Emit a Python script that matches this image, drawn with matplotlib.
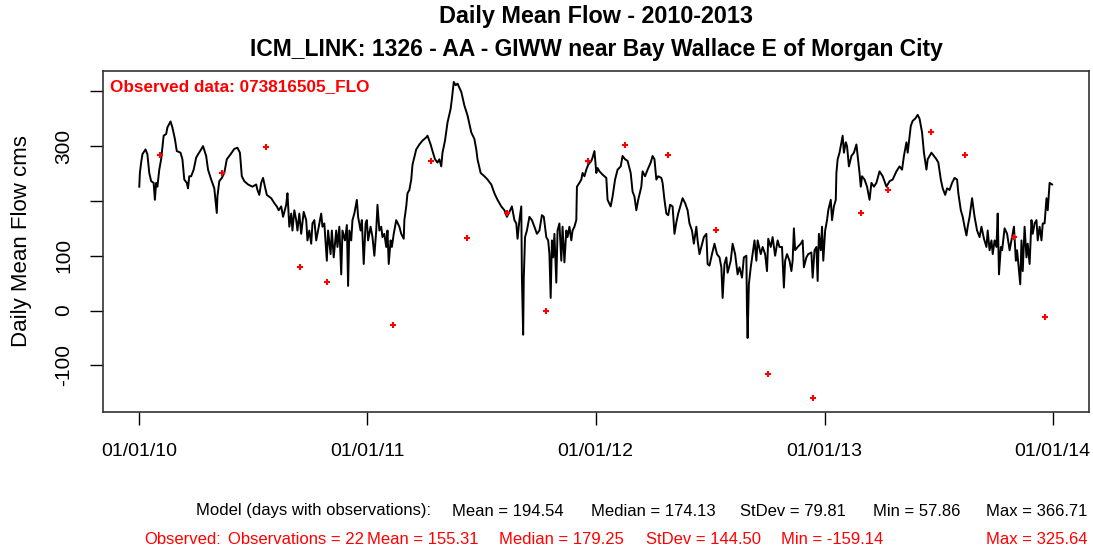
import numpy as np
import matplotlib
matplotlib.use("Agg")
import matplotlib.pyplot as plt
import matplotlib.dates as mdates

plt.rcParams['font.family'] = ['Liberation Sans', 'DejaVu Sans']

# model daily mean flow (cms); days counted from 2010-01-01
model_day = [0, 1, 3, 5, 10, 13, 16, 19, 23, 25, 27, 29, 32, 35, 39, 43, 45, 50, 53, 57,
             60, 66, 69, 72, 76, 78, 80, 83, 87, 91, 94, 99, 102, 107, 110, 115, 120, 124, 125, 128,
             132, 136, 140, 146, 152, 157, 161, 164, 168, 174, 181, 187, 189, 192, 195, 198, 201, 204, 211, 216,
             220, 223, 227, 230, 235, 237, 240, 243, 245, 248, 251, 253, 256, 259, 263, 267, 269, 272, 275, 277,
             280, 283, 286, 291, 293, 296, 300, 302, 306, 308, 311, 315, 317, 320, 323, 325, 329, 332, 334, 336,
             339, 341,
             344, 348, 350, 354, 356, 359, 362, 364, 366, 370, 373, 376, 379, 381, 384, 387, 389, 392, 395, 397,
             399, 402, 404, 407, 411, 416, 419, 423, 424, 427, 429, 432, 435, 437, 443, 448, 453, 459, 461, 466,
             469, 473, 477, 480, 483, 485, 489, 493, 498, 500, 503, 506, 509, 515, 520, 525, 531, 536, 539, 541,
             546, 552, 557, 563, 568, 573, 579, 584, 588, 592, 596, 600, 603, 605, 608, 611, 612, 614, 615, 617,
             620, 624, 628, 632, 636, 640, 644, 647, 651, 654, 656, 658, 660, 662, 664, 667, 669, 672, 675, 677,
             680, 683, 685, 688, 691, 693, 696, 699, 700, 704, 707, 709,
             712, 715, 718, 723, 725, 728, 731, 733, 736, 741, 747, 749, 754, 757, 761, 765, 770, 773, 777, 781,
             786, 789, 792, 795, 798, 803, 805, 809, 813, 818, 821, 824, 827, 830, 835, 837, 840, 843, 846, 849,
             853, 856, 859, 862, 866, 869, 873, 877, 880, 884, 887, 891, 893, 896, 899, 903, 907, 909, 912, 916,
             920, 924, 928, 931, 933, 936, 939, 941, 946, 949, 953, 957, 960, 964, 967, 971, 972, 973, 975, 978,
             981, 984, 987, 989, 994, 997, 1001, 1004, 1006, 1010, 1013, 1017, 1021, 1024, 1028, 1031, 1033, 1036, 1040, 1043,
             1045, 1047, 1049, 1053, 1058, 1061, 1063, 1067, 1070, 1075, 1077,
             1080, 1083, 1085, 1087, 1090, 1092, 1094, 1097, 1100, 1102, 1106, 1108, 1111, 1114, 1115, 1117, 1120, 1123, 1125, 1127,
             1130, 1132, 1135, 1139, 1143, 1147, 1149, 1152, 1154, 1156, 1160, 1164, 1168, 1171, 1175, 1179, 1184, 1189, 1195, 1200,
             1205, 1211, 1216, 1220, 1223, 1227, 1229, 1234, 1237, 1241, 1245, 1248, 1252, 1255, 1259, 1261, 1267, 1271, 1275, 1278,
             1282, 1285, 1289, 1292, 1296, 1300, 1304, 1308, 1310, 1314, 1317, 1320, 1323, 1325, 1328, 1332, 1336, 1340, 1344, 1347,
             1351, 1355, 1357, 1360, 1363, 1365, 1368, 1371, 1373, 1375, 1378, 1380, 1384, 1388, 1392, 1396, 1399, 1402, 1404, 1406,
             1409, 1411, 1413, 1416, 1419, 1421, 1424, 1427, 1429, 1432, 1435, 1437, 1440, 1443, 1445, 1448, 1451, 1453, 1456, 1460]
model_flow = [226, 251, 270, 285, 294, 285, 251, 236, 233, 202, 233, 226, 257, 276, 319, 322, 334, 345, 334, 313,
              291, 288, 276, 239, 233, 223, 245, 245, 257, 279, 285, 294, 300, 282, 257, 239, 223, 178, 208, 236,
              242, 251, 276, 285, 295, 297, 288, 245, 236, 230, 226, 230, 220, 211, 233, 242, 226, 211, 205, 196,
              190, 183, 190, 171, 193, 214, 153, 177, 146, 183, 165, 146, 177, 140, 180, 165, 128, 146, 122, 159,
              165, 128, 146, 177, 153, 159, 91, 146, 103, 146, 97, 146, 116, 153, 66, 146, 128, 156, 45, 146,
              128, 165,
              177, 202, 171, 146, 165, 85, 159, 165, 128, 153, 134, 100, 146, 193, 146, 153, 134, 140, 116, 146,
              85, 128, 116, 140, 165, 153, 140, 131, 165, 190, 214, 220, 239, 266, 294, 303, 310, 316, 319, 303,
              291, 276, 270, 276, 263, 288, 310, 343, 368, 386, 417, 411, 414, 399, 374, 356, 325, 313, 294, 276,
              251, 245, 239, 230, 214, 202, 190, 183, 171, 180, 190, 165, 159, 131, 165, 190, 60, -44, 60, 134,
              146, 171, 165, 153, 140, 146, 174, 171, 134, 128, 103, 23, 128, 97, 140, 51, 146, 159, 91, 153,
              88, 146, 134, 153, 128, 146, 153, 165, 226, 233, 239, 251,
              245, 257, 266, 273, 279, 291, 251, 260, 254, 248, 242, 202, 190, 208, 239, 257, 263, 282, 276, 273,
              251, 217, 208, 183, 202, 226, 254, 245, 257, 270, 282, 276, 239, 245, 242, 233, 202, 177, 174, 193,
              190, 140, 161, 177, 193, 205, 196, 183, 159, 146, 122, 153, 128, 103, 116, 134, 140, 85, 82, 103,
              122, 103, 97, 79, 23, 85, 97, 69, 91, 122, 103, 66, 79, 60, 97, 100, -4, -50, 48, 79,
              103, 128, 91, 128, 103, 116, 103, 72, 131, 116, 134, 100, 128, 116, 116, 42, 91, 103, 91, 72,
              91, 150, 110, 116, 122, 128, 79, 97, 103, 106, 60,
              110, 116, 54, 140, 110, 153, 91, 146, 165, 183, 202, 165, 190, 202, 251, 276, 288, 307, 319, 288,
              307, 300, 263, 282, 288, 303, 282, 251, 226, 245, 239, 226, 202, 233, 226, 233, 254, 245, 226, 236,
              239, 254, 263, 257, 282, 307, 288, 337, 346, 350, 357, 350, 325, 288, 257, 276, 288, 282, 276, 270,
              239, 223, 211, 223, 220, 233, 242, 239, 214, 183, 171, 153, 137, 153, 171, 205, 171, 146, 134, 153,
              131, 116, 146, 110, 128, 103, 128, 116, 177, 66, 116, 110, 150, 140, 110, 134, 153, 91, 110, 85,
              48, 128, 72, 153, 97, 122, 85, 165, 140, 159, 165, 128, 153, 128, 159, 159, 205, 183, 233, 230]

# observed gauge values
obs_day = [33, 132, 202, 257, 300, 406, 467, 524, 588, 650, 717, 777, 846, 923, 1005, 1077,
           1155, 1197, 1266, 1321, 1399, 1448]
obs_flow = [283, 251, 299, 80, 52, -27, 272, 133, 178, -1, 272, 302, 283, 147, -116, -159.14,
            178, 220, 325.64, 283, 135, -12]

tick_dates = ['2010-01-01', '2011-01-01', '2012-01-01', '2013-01-01', '2014-01-01']
y_ticks = [-100, 0, 100, 200, 300, 400]
y_labels = ['-100', '0', '100', '', '300', '']

model_stats = ['Model (days with observations):', 'Mean = 194.54', 'Median = 174.13',
               'StDev = 79.81', 'Min = 57.86', 'Max = 366.71']
obs_stats = ['Observed:', 'Observations = 22', 'Mean = 155.31', 'Median = 179.25',
             'StDev = 144.50', 'Min = -159.14', 'Max = 325.64']

start = np.datetime64('2010-01-01')
model_t = start + np.array(model_day).astype('timedelta64[D]')
obs_t = start + np.array(obs_day).astype('timedelta64[D]')

W, H = 1093, 552
fig = plt.figure(figsize=(W / 100, H / 100), dpi=100)
ax = fig.add_axes([103 / W, 1 - 412 / H, 986 / W, 341 / H])

ax.plot(model_t, model_flow, color='black', lw=1.4)
ax.plot(obs_t, obs_flow, ls='none', marker='+', color='red', ms=5, mew=1.5)

ax.set_xlim(start - np.timedelta64(58, 'D'), start + np.timedelta64(1461 + 58, 'D'))
ax.set_ylim(-185, 437)

ax.set_xticks([np.datetime64(d) for d in tick_dates])
ax.xaxis.set_major_formatter(mdates.DateFormatter('%m/%d/%y'))
ax.set_yticks(y_ticks)
ax.set_yticklabels(y_labels, rotation=90, va='center')
ax.tick_params(axis='x', length=9.5, width=1, labelsize=14, pad=13)
ax.tick_params(axis='y', length=9.5, width=1, labelsize=15, pad=12)
for s in ax.spines.values():
    s.set_linewidth(1.2)
    s.set_color('#333333')

ax.text(110 / W, 1 - 87 / H, 'Observed data: 073816505_FLO', transform=fig.transFigure,
        color='red', fontsize=12.3, fontweight='bold', va='center', ha='left')

fig.text(596 / W, 1 - 16 / H, 'Daily Mean Flow - 2010-2013', ha='center', va='center',
         fontsize=16.8, fontweight='bold')
fig.text(596 / W, 1 - 49 / H, 'ICM_LINK: 1326 - AA - GIWW near Bay Wallace E of Morgan City',
         ha='center', va='center', fontsize=16.5, fontweight='bold')
fig.text(22 / W, 1 - 241 / H, 'Daily Mean Flow cms', rotation=90, ha='center', va='center',
         fontsize=16)

# stats lines under the plot, each piece centred where it sits in the original
x1 = [314, 508, 653, 793, 917, 1037]
for s, x in zip(model_stats, x1):
    fig.text(x / W, 1 - 511 / H, s, fontsize=12, color='black', ha='center', va='center')
x2 = [183, 296, 423, 561, 703, 832, 1037]
for s, x in zip(obs_stats, x2):
    fig.text(x / W, 1 - 540 / H, s, fontsize=12, color='red', ha='center', va='center')

fig.savefig('out.png', dpi=100)
